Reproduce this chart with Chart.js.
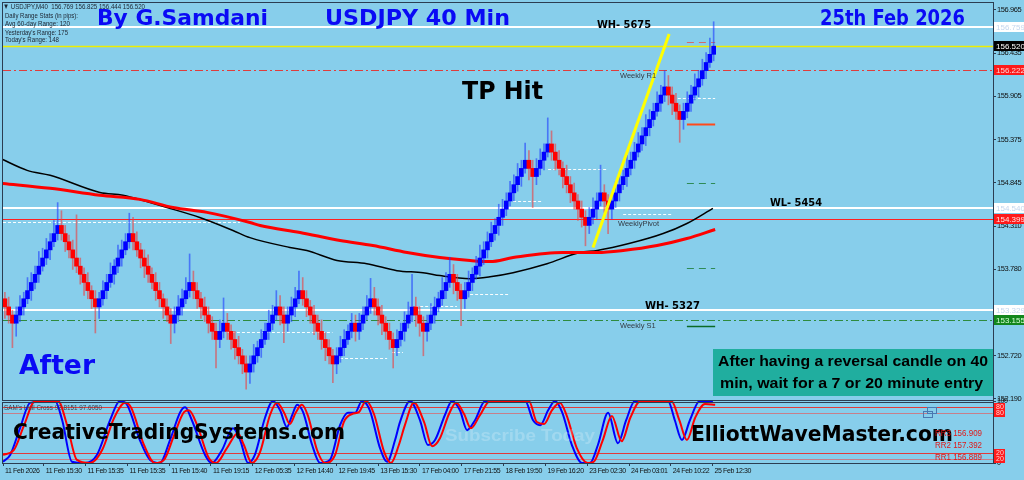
<!DOCTYPE html>
<html><head><meta charset="utf-8">
<script src="https://cdn.jsdelivr.net/npm/chart.js@4.4.1/dist/chart.umd.min.js"></script>
<style>html,body{margin:0;padding:0;background:#87ceeb;overflow:hidden}canvas{display:block}</style>
</head><body>
<canvas id="c" width="1024" height="480"></canvas>
<script>
// ---------------- DATA ----------------
const startOpen = 153.42;
const closes = [
153.32,
153.22,153.12,
153.22,153.32,153.42,153.52,153.62,153.72,153.82,153.92,154.02,154.12,154.22,154.32,
154.22,154.12,154.02,153.92,153.82,153.72,153.62,153.52,153.42,153.32,
153.42,153.52,153.62,153.72,153.82,153.92,154.02,154.12,154.22,
154.12,154.02,153.92,153.82,153.72,153.62,153.52,153.42,153.32,153.22,153.12,
153.22,153.32,153.42,153.52,153.62,
153.52,153.42,153.32,153.22,153.12,153.02,152.92,
153.02,153.12,
153.02,152.92,152.82,152.72,152.62,152.52,
152.62,152.72,152.82,152.92,153.02,153.12,153.22,153.32,
153.22,153.12,
153.22,153.32,153.42,153.52,
153.42,153.32,153.22,153.12,153.02,152.92,152.82,152.72,152.62,
152.72,152.82,152.92,153.02,153.12,
153.02,
153.12,153.22,153.32,153.42,
153.32,153.22,153.12,153.02,152.92,152.82,
152.92,153.02,153.12,153.22,153.32,
153.22,153.12,153.02,
153.12,153.22,153.32,153.42,153.52,153.62,153.72,
153.62,153.52,153.42,
153.52,153.62,153.72,153.82,153.92,154.02,154.12,154.22,154.32,154.42,154.52,154.62,154.72,154.82,154.92,155.02,155.12,
155.02,154.92,
155.02,155.12,155.22,155.32,
155.22,155.12,155.02,154.92,154.82,154.72,154.62,154.52,154.42,154.32,
154.42,154.52,154.62,154.72,
154.62,154.52,
154.62,154.72,154.82,154.92,155.02,155.12,155.22,155.32,155.42,155.52,155.62,155.72,155.82,155.92,156.02,
155.92,155.82,155.72,155.62,
155.72,155.82,155.92,156.02,156.12,156.22,156.32,156.42,156.52
];
// wick extensions beyond the brick body, in pips (0.01 JPY)
const wickHiPips = [
8,12,6,
10,14,8,16,12,10,18,12,14,10,16,28,
18,10,8,12,53,10,8,12,6,10,
8,12,10,14,8,16,12,10,25,
20,12,8,10,14,8,12,10,6,10,8,
10,14,12,16,35,
14,10,8,12,10,8,10,
14,31,
12,8,10,14,8,10,
10,14,8,12,10,16,12,20,
14,10,
10,12,14,24,
16,10,8,12,10,14,8,10,8,
10,14,12,8,12,
10,
12,10,14,25,
14,10,12,8,10,8,
12,10,14,16,40,
12,10,8,
10,14,12,8,16,12,21,
12,10,8,
10,14,8,12,16,10,12,14,8,16,12,10,14,12,16,10,21,
12,10,
12,14,10,32,
16,10,12,8,14,10,12,8,10,8,
12,14,10,34,
10,8,
10,14,12,8,16,10,12,14,10,16,12,10,14,12,20,
14,10,12,8,
10,14,12,16,10,14,12,20,30
];
const wickLoPips = [
14,10,30,
16,8,10,6,12,8,10,6,8,12,6,8,
8,12,10,14,8,12,16,10,12,32,
14,8,10,6,12,8,10,6,8,
10,8,12,14,10,8,12,10,14,8,25,
12,8,10,6,8,
10,12,14,8,12,10,35,
10,8,
10,12,14,10,12,21,
14,10,8,12,6,10,8,6,
12,24,
10,8,12,6,
8,12,10,14,10,12,16,10,23,
12,8,10,6,8,
12,
10,8,6,8,
10,12,14,10,12,25,
10,8,12,6,8,
14,16,30,
12,8,10,6,8,10,6,
14,12,33,
12,8,10,6,12,8,10,6,8,12,10,8,6,10,8,12,6,
14,38,
10,8,12,6,
10,12,8,14,10,12,10,14,12,25,
10,8,12,6,
14,30,
12,8,10,6,12,8,10,6,8,12,10,8,6,10,8,
12,14,10,28,
12,8,10,6,12,8,10,6,8
];
// moving averages: [bar index, price]
const blackMA = [[-1.3,155.144],[5.9,154.996],[12.0,154.935],[25.2,154.725],[31.3,154.69],[38.5,154.60],[43.0,154.54],[51.7,154.417],[60.5,154.258],[65.0,154.17],[75.6,154.05],[80.1,154.012],[88.1,153.89],[96.0,153.85],[104.0,153.765],[110.9,153.74],[115.4,153.704],[123.4,153.667],[128.7,153.69],[134.8,153.74],[143.8,153.85],[152.5,153.987],[157.1,154.012],[165.8,154.10],[174.6,154.22],[180.9,154.344],[187.8,154.53]];
const redMA = [[-0.8,154.836],[12.0,154.775],[25.2,154.69],[35.8,154.64],[44.6,154.54],[53.6,154.48],[65.0,154.356],[67.7,154.32],[78.3,154.233],[88.9,154.135],[97.6,154.073],[106.7,153.987],[115.4,153.925],[123.4,153.889],[128.7,153.876],[134.8,153.925],[148.0,153.987],[157.1,153.987],[164.0,154.012],[173.0,154.073],[180.9,154.159],[188.4,154.27]];
const trendLine = [[156.0,154.05],[176.2,156.67]];
// oscillator (0..100): [bar index, value]
const oscBlue = [[-0.5,2],[1.4,13],[4.0,56],[6.7,97],[13.3,100],[15.2,69],[17.8,2],[21.3,0],[24.4,13],[27.9,69],[30.5,100],[32.4,94],[35.8,37],[38.5,5],[41.1,0],[43.8,37],[46.5,82],[47.8,90],[49.6,69],[53.1,13],[54.9,0],[57.6,21],[60.5,56],[62.4,37],[64.5,0],[66.3,13],[69.0,73],[71.1,100],[73.0,85],[74.8,58],[76.2,77],[77.5,94],[79.1,82],[81.5,29],[83.6,0],[86.2,5],[88.9,61],[91.0,81],[92.9,81],[94.7,100],[96.8,85],[99.5,24],[101.4,2],[103.5,37],[104.8,66],[107.5,100],[110.1,69],[112.2,29],[114.1,37],[116.7,77],[118.6,100],[120.7,85],[122.6,53],[124.7,69],[127.4,100],[138.0,100],[140.1,69],[142.0,61],[144.1,85],[145.9,100],[147.8,82],[150.4,29],[153.1,0],[155.2,0],[157.3,29],[160.0,81],[162.6,32],[164.8,69],[167.1,100],[175.9,100],[177.7,69],[179.6,37],[181.7,69],[184.3,100],[187.8,100]];
const oscRed = [[-0.5,13],[2.4,21],[5.1,61],[8.0,100],[14.1,100],[16.5,61],[19.1,5],[22.6,0],[25.8,21],[29.0,73],[31.9,97],[33.5,89],[36.9,29],[39.8,0],[42.2,5],[44.9,45],[47.5,82],[48.8,85],[51.0,61],[54.1,8],[56.0,0],[58.9,24],[61.8,48],[63.4,29],[65.5,0],[67.7,18],[70.3,77],[72.2,97],[74.0,82],[75.6,63],[77.2,82],[78.8,94],[80.4,76],[82.8,21],[84.9,0],[87.6,13],[89.9,66],[92.1,79],[93.9,82],[95.8,100],[97.9,79],[100.6,18],[102.4,0],[104.5,29],[106.1,61],[108.5,97],[111.2,66],[113.3,27],[115.4,40],[117.8,79],[119.7,97],[121.8,79],[123.6,56],[126.0,77],[128.7,100],[139.0,100],[141.1,66],[143.0,63],[145.1,85],[147.2,97],[149.0,77],[151.7,24],[154.6,0],[156.2,2],[158.6,37],[161.0,76],[163.6,35],[165.9,73],[168.6,100],[176.8,100],[178.9,69],[180.9,37],[183.1,73],[185.7,95],[188.4,94]];
const oscLevels = [90, 80, 16, 6];
// horizontal price levels
const levelPrices = [156.759, 156.520, 156.222, 154.540, 154.399, 153.28, 153.155];
const tagTexts = ['156.759','156.520','156.222','154.540','154.399','153.329','153.155'];
// short pivot segments: [from bar, to bar, price]
const pivotSegs = [[-0.5,62.4,154.368],[58.9,86.9,153.015],[88.9,101.4,152.695],[102.7,105.6,152.77],[107.5,119.9,153.335],[123.4,133.5,153.48],[134.8,142.5,154.615],[144.1,160.0,155.01],[164.0,177.2,154.455],[178.5,188.4,155.89]];
const rightMarkRange = [180.9, 188.4];
const rightMarkPrices = [156.571, 155.56, 154.836, 153.80, 153.09];
// axes
const priceTicks = [152.190,152.455,152.720,152.985,153.250,153.515,153.780,154.045,154.310,154.580,154.845,155.110,155.375,155.640,155.905,156.170,156.435,156.700,156.965];
const timeTickPos = [-0.5,10.32,21.41,32.5,43.58,54.67,65.76,76.85,87.93,99.02,110.11,121.2,132.29,143.37,154.46,165.55,176.64,187.72];
const timeTickLabels = ['11 Feb 2026','11 Feb 15:30','11 Feb 15:35','11 Feb 15:35','11 Feb 15:40','11 Feb 19:15','12 Feb 05:35','12 Feb 14:40','12 Feb 19:45','13 Feb 15:30','17 Feb 04:00','17 Feb 21:55','18 Feb 19:50','19 Feb 16:20','23 Feb 02:30','24 Feb 03:01','24 Feb 10:22','25 Feb 12:30'];
const headerLines = ['\u25BC USDJPY,M40  156.769 156.825 156.444 156.520','Daily Range Stats (in pips):','Avg 60-day Range: 120',"Yesterday's Range: 175","Today's Range: 148"];

// ---------------- BUILD ----------------
const opens = closes.map((c, i) => i === 0 ? startOpen : closes[i - 1]);
const bodies = closes.map((c, i) => ({x: i, y: [opens[i], c]}));
const wicks = closes.map((c, i) => ({x: i, y: [Math.min(opens[i], c) - wickLoPips[i] / 100, Math.max(opens[i], c) + wickHiPips[i] / 100]}));
const isUp = closes.map((c, i) => c > opens[i]);
const pts = a => a.map(([x, y]) => ({x, y}));

const SMALL = "'Liberation Sans',Arial,sans-serif";

function txt(ctx, s, x, y, size, fam, weight, color, w) {
  ctx.save();
  ctx.font = weight + ' ' + size + 'px ' + fam;
  ctx.fillStyle = color; ctx.textAlign = 'left'; ctx.textBaseline = 'alphabetic';
  ctx.translate(x, y);
  if (w) { const m = ctx.measureText(s).width; ctx.scale(w / m, 1); }
  ctx.fillText(s, 0, 0);
  ctx.restore();
}

const levelStyles = [
  {c:'#ffffff', w:2}, {c:'#eeee00', w:1.5}, {c:'#e03c3c', w:1, d:[8,3,2,3]},
  {c:'#ffffff', w:2}, {c:'#ff2020', w:1}, {c:'#ffffff', w:2}, {c:'#2e8b3e', w:1, d:[8,3,2,3]}
];
const tagStyles = [
  {bg:'#ffffff', fg:'#c4d6ee'}, {bg:'#000000', fg:'#ffffff'}, {bg:'#ff1a1a', fg:'#ffd6d6'},
  {bg:'#ffffff', fg:'#c4d6ee'}, {bg:'#ff1a1a', fg:'#ffe6e6'}, {bg:'#ffffff', fg:'#c4d6ee'}, {bg:'#13871c', fg:'#d8ffd8'}
];
const rightMarkStyles = [
  {c:'#d46a6a', w:1, d:[7,5]}, {c:'#ff4a1a', w:2}, {c:'#2e8b57', w:1.2, d:[7,5]}, {c:'#2e8b57', w:1.2, d:[7,5]}, {c:'#0b6a25', w:1.5}
];

const overlay = {
  id: 'overlay',
  beforeDraw(chart) {
    // tighten axis label spacing (axis labels are drawn before datasets)
    if ('letterSpacing' in chart.ctx) chart.ctx.letterSpacing = '-0.4px';
  },
  beforeDatasetsDraw(chart) {
    const {ctx, chartArea: a} = chart;
    if ('letterSpacing' in ctx) ctx.letterSpacing = '0px';
    const x = chart.scales.x, y = chart.scales.y, y2 = chart.scales.y2;
    ctx.save();
    ctx.beginPath(); ctx.rect(a.left, a.top, a.right - a.left, a.bottom - a.top); ctx.clip();
    ctx.strokeStyle = 'rgba(255,255,255,0.95)'; ctx.lineWidth = 1; ctx.setLineDash([3,2]);
    pivotSegs.forEach(([f, t, p]) => {
      const py = Math.round(y.getPixelForValue(p)) + 0.5;
      ctx.beginPath(); ctx.moveTo(x.getPixelForValue(f), py); ctx.lineTo(x.getPixelForValue(t), py); ctx.stroke();
    });
    levelPrices.forEach((p, i) => {
      const st = levelStyles[i];
      const py = Math.round(y.getPixelForValue(p)) + (st.w === 2 ? 0 : 0.5);
      ctx.beginPath(); ctx.strokeStyle = st.c; ctx.lineWidth = st.w; ctx.setLineDash(st.d || []);
      ctx.moveTo(a.left, py); ctx.lineTo(a.right, py); ctx.stroke();
    });
    rightMarkPrices.forEach((p, i) => {
      const st = rightMarkStyles[i];
      const py = Math.round(y.getPixelForValue(p)) + 0.5;
      ctx.beginPath(); ctx.strokeStyle = st.c; ctx.lineWidth = st.w; ctx.setLineDash(st.d || []);
      ctx.moveTo(x.getPixelForValue(rightMarkRange[0]), py); ctx.lineTo(x.getPixelForValue(rightMarkRange[1]), py); ctx.stroke();
    });
    ctx.setLineDash([]);
    oscLevels.forEach((v, i) => {
      const py = Math.round(y2.getPixelForValue(v)) + 0.5;
      ctx.beginPath(); ctx.strokeStyle = i % 2 === 0 ? '#e23a3a' : '#c77f8a'; ctx.lineWidth = 1.2;
      ctx.moveTo(a.left, py); ctx.lineTo(a.right, py); ctx.stroke();
    });
    ctx.restore();
  },
  afterDraw(chart) {
    const {ctx, chartArea: a} = chart;
    if ('letterSpacing' in ctx) ctx.letterSpacing = '0px';
    const y = chart.scales.y, y2 = chart.scales.y2;
    ctx.save();
    ctx.strokeStyle = '#2b3d52'; ctx.lineWidth = 1; ctx.setLineDash([]);
    ctx.strokeRect(a.left - 0.5, a.top - 0.5, a.right - a.left + 1, y.bottom - a.top);
    ctx.strokeRect(a.left - 0.5, y2.top + 1.5, a.right - a.left + 1, y2.bottom - y2.top - 1);
    ctx.font = '8px ' + SMALL; ctx.textBaseline = 'middle'; ctx.textAlign = 'left';
    levelPrices.forEach((p, i) => {
      const py = Math.round(y.getPixelForValue(p));
      ctx.fillStyle = tagStyles[i].bg; ctx.fillRect(a.right + 1, py - 5, 30, 10);
      ctx.fillStyle = tagStyles[i].fg; ctx.fillText(tagTexts[i], a.right + 3, py + 0.5);
    });
    ctx.font = '7px ' + SMALL;
    [['80', 90], ['80', 80], ['20', 16], ['20', 6]].forEach(([s, v]) => {
      const py = Math.round(y2.getPixelForValue(v));
      ctx.fillStyle = '#ff1a1a'; ctx.fillRect(a.right + 1, py - 4, 11, 8);
      ctx.fillStyle = '#ffd0d0'; ctx.fillText(s, a.right + 3, py + 0.5);
    });
    const hy = [9, 18, 26, 34.5, 42];
    const hw = [142, 73, 65, 63, 54];
    headerLines.forEach((s, i) => txt(ctx, s, i === 0 ? 3 : 5, hy[i], 8, SMALL, 'normal', '#1c2430', hw[i]));
    const F = "'DejaVu Sans',sans-serif";
    txt(ctx, 'By G.Samdani', 97, 25, 21, F, 'bold', '#0a0af5', 171);
    txt(ctx, 'USDJPY 40 Min', 325, 25, 21, F, 'bold', '#0a0af5', 185);
    txt(ctx, '25th Feb 2026', 820, 25, 21, F, 'bold', '#0a0af5', 145);
    txt(ctx, 'WH- 5675', 597, 28, 10.5, F, 'bold', '#000', 54);
    txt(ctx, 'TP Hit', 462, 99, 24, F, 'bold', '#000', 81);
    txt(ctx, 'WL- 5454', 770, 206, 10.5, F, 'bold', '#000', 52);
    txt(ctx, 'WH- 5327', 645, 309, 10.5, F, 'bold', '#000', 55);
    txt(ctx, 'After', 19, 374, 26, F, 'bold', '#0a0af5', 76);
    txt(ctx, 'Weekly R1', 620, 78, 7.5, SMALL, 'normal', '#333a44');
    txt(ctx, 'WeeklyPivot', 618, 226, 7.5, SMALL, 'normal', '#333a44');
    txt(ctx, 'Weekly S1', 620, 328, 7.5, SMALL, 'normal', '#333a44');
    ctx.fillStyle = '#20ae9f'; ctx.fillRect(713, 349, a.right - 713, 47);
    txt(ctx, 'After having a reversal candle on 40', 718, 366, 14.5, SMALL, 'bold', '#000', 270);
    txt(ctx, 'min, wait for a 7 or 20 minute entry', 720, 388, 14.5, SMALL, 'bold', '#000', 263);
    txt(ctx, "SAM's Hull Cross 92.8151 97.6050", 4, 410, 7, SMALL, 'normal', '#3a3f48', 98);
    txt(ctx, 'Subscribe Today', 445, 441, 16, SMALL, 'bold', 'rgba(255,255,255,0.22)', 150);
    txt(ctx, 'CreativeTradingSystems.com', 13, 439, 21, F, 'bold', '#000', 332);
    txt(ctx, 'ElliottWaveMaster.com', 691, 441, 21, F, 'bold', '#000', 262);
    txt(ctx, 'RR3 156.909', 935, 436, 9, SMALL, 'normal', '#e01818', 47);
    txt(ctx, 'RR2 157.392', 935, 448, 9, SMALL, 'normal', '#e01818', 47);
    txt(ctx, 'RR1 156.889', 935, 460, 9, SMALL, 'normal', '#e01818', 47);
    ctx.strokeStyle = '#4a78b0'; ctx.lineWidth = 1;
    ctx.strokeRect(927.5, 407.5, 9, 6); ctx.strokeRect(923.5, 411.5, 9, 6);
    ctx.restore();
  }
};

new Chart(document.getElementById('c'), {
  data: {
    datasets: [
      {type:'line', data: pts(trendLine), borderColor:'#ffff00', borderWidth:3, pointRadius:0, yAxisID:'y', order:1},
      {type:'line', data: pts(oscRed), borderColor:'#ff0000', borderWidth:2, pointRadius:0, yAxisID:'y2', cubicInterpolationMode:'monotone', order:2},
      {type:'line', data: pts(oscBlue), borderColor:'#0000ff', borderWidth:2, pointRadius:0, yAxisID:'y2', cubicInterpolationMode:'monotone', order:3},
      {type:'bar', data: bodies, backgroundColor: isUp.map(u => u ? '#0000ff' : '#ff0000'), borderWidth:0, barThickness:4, grouped:false, yAxisID:'y', order:4},
      {type:'bar', data: wicks, backgroundColor: isUp.map(u => u ? 'rgba(30,60,255,0.6)' : 'rgba(240,60,60,0.6)'), borderWidth:0, barThickness:1, grouped:false, yAxisID:'y', order:5},
      {type:'line', data: pts(redMA), borderColor:'#ff0000', borderWidth:3, pointRadius:0, yAxisID:'y', cubicInterpolationMode:'monotone', order:6},
      {type:'line', data: pts(blackMA), borderColor:'#000000', borderWidth:1.5, pointRadius:0, yAxisID:'y', cubicInterpolationMode:'monotone', order:7}
    ]
  },
  options: {
    responsive:false, animation:false, devicePixelRatio:1,
    layout:{padding:{top:3, left:3, right:0, bottom:0}},
    plugins:{legend:{display:false}, tooltip:{enabled:false}},
    scales:{
      x:{type:'linear', position:'bottom', min:-0.5, max:262.1, offset:false,
        afterBuildTicks: s => { s.ticks = timeTickPos.map(v => ({value:v})); },
        afterFit: s => { s.height = 17; s.paddingLeft = 0; s.paddingRight = 0; },
        ticks:{autoSkip:false, maxRotation:0, minRotation:0, align:'start', labelOffset:2, padding:1, color:'#111', font:{family:SMALL, size:7}, callback:(v, i) => timeTickLabels[i]},
        grid:{drawOnChartArea:false, drawTicks:true, tickLength:3, color:'#2b3d52', offset:false}, border:{display:false}},
      y:{type:'linear', position:'right', stack:'p', stackWeight:6.42, weight:0, min:152.165, max:157.05,
        afterBuildTicks: s => { s.ticks = priceTicks.map(v => ({value:v})); },
        afterFit: s => { s.width = 31; s.paddingTop = 0; s.paddingBottom = 0; },
        ticks:{padding:1, color:'#111', font:{family:SMALL, size:7.5}, callback: v => v.toFixed(3)},
        grid:{drawOnChartArea:false, drawTicks:true, tickLength:3, color:'#2b3d52'}, border:{display:false}},
      y2:{type:'linear', position:'right', stack:'p', stackWeight:1, weight:1, min:0, max:100,
        afterBuildTicks: s => { s.ticks = [{value:100},{value:0}]; },
        afterFit: s => { s.width = 31; s.paddingTop = 0; s.paddingBottom = 0; },
        ticks:{padding:1, color:'#111', font:{family:SMALL, size:7}, callback: v => String(v)},
        grid:{drawOnChartArea:false, drawTicks:true, tickLength:3, color:'#2b3d52'}, border:{display:false}}
    }
  },
  plugins:[overlay]
});
</script>
</body></html>
